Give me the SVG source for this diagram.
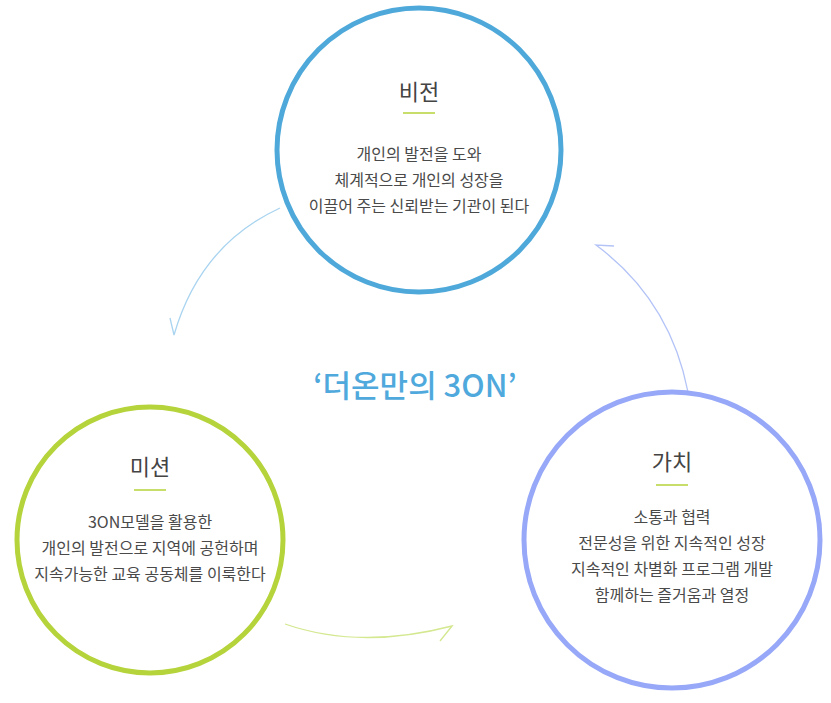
<svg xmlns="http://www.w3.org/2000/svg" width="831" height="703" viewBox="0 0 831 703">
<style>
text{font-family:"Noto Sans CJK KR","Noto Sans",sans-serif;fill:#4a4a4a;text-anchor:middle}
.t{font-size:22px;fill:#444}
.b{font-size:16px}
.c{fill:#fff;stroke-width:5}
.a{fill:none;stroke-width:1.3}
</style>
<rect width="831" height="703" fill="#fff"/>
<g id="connectors">
<path class="a" stroke="#a9d4f0" d="M280 208 Q200 245 174 335 M170 318 L174 335"/>
<path class="a" stroke="#b3c3f7" d="M688 392 Q670 300 596 245 L614 246"/>
<path class="a" stroke="#d3e88f" d="M285 624 Q360 650 452 626 L440 641"/>
</g>
<text x="415" y="397" style="font-size:31px;fill:#4fa9dc;font-weight:500">‘더온만의 3ON’</text>
<g id="vision">
<circle class="c" cx="419" cy="150" r="142" stroke="#4ea9da"/>
<text class="t" x="419" y="100">비전</text>
<line x1="403" y1="113" x2="435" y2="113" stroke="#b5d33a" stroke-width="1.5"/>
<text class="b" x="419" y="160">개인의 발전을 도와</text>
<text class="b" x="419" y="186">체계적으로 개인의 성장을</text>
<text class="b" x="419" y="212">이끌어 주는 신뢰받는 기관이 된다</text>
</g>
<g id="mission">
<circle class="c" cx="150" cy="540" r="133" stroke="#b5d33a"/>
<text class="t" x="150" y="475">미션</text>
<line x1="134" y1="490" x2="166" y2="490" stroke="#b5d33a" stroke-width="1.5"/>
<text class="b" x="150" y="528">3ON모델을 활용한</text>
<text class="b" x="150" y="554">개인의 발전으로 지역에 공헌하며</text>
<text class="b" x="150" y="580">지속가능한 교육 공동체를 이룩한다</text>
</g>
<g id="value">
<circle class="c" cx="672" cy="540" r="148" stroke="#97a8f8"/>
<text class="t" x="672" y="470">가치</text>
<line x1="656" y1="485" x2="688" y2="485" stroke="#b5d33a" stroke-width="1.5"/>
<text class="b" x="672" y="523">소통과 협력</text>
<text class="b" x="672" y="549">전문성을 위한 지속적인 성장</text>
<text class="b" x="672" y="575">지속적인 차별화 프로그램 개발</text>
<text class="b" x="672" y="601">함께하는 즐거움과 열정</text>
</g>
</svg>
